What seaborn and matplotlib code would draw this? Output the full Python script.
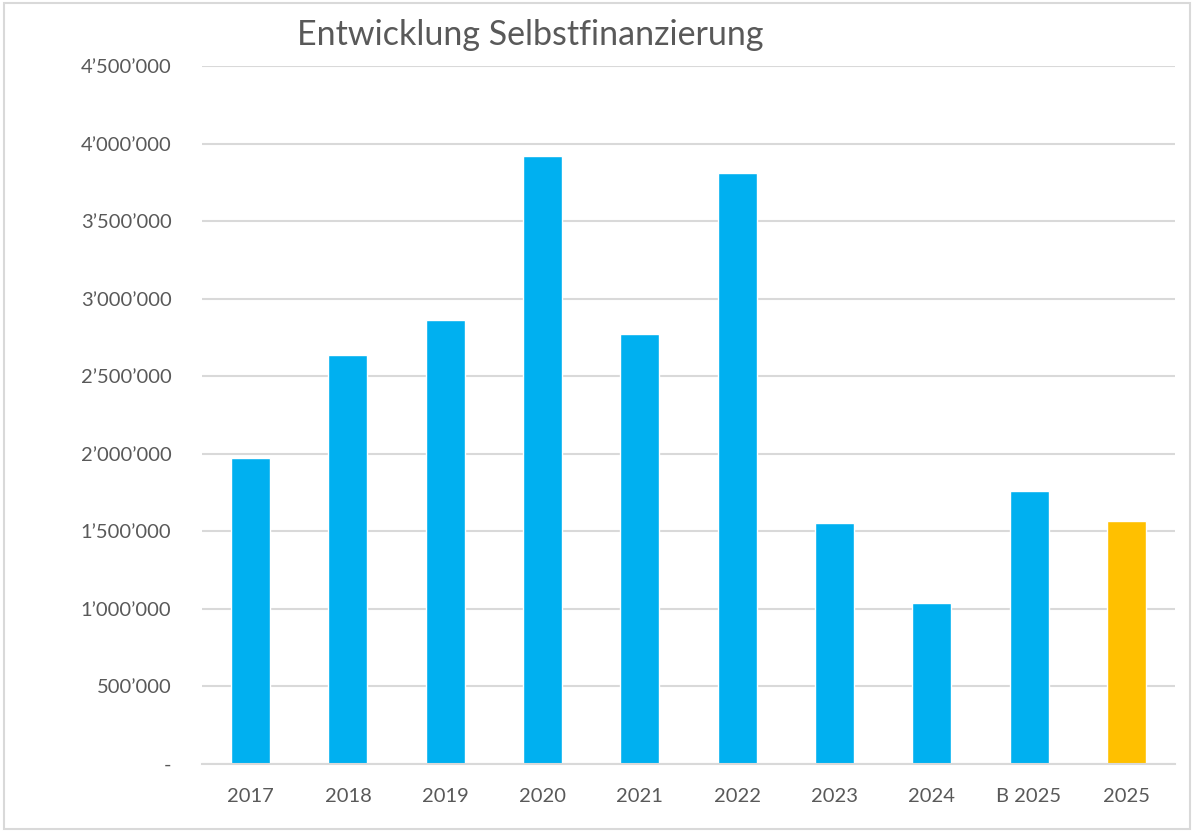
import matplotlib
matplotlib.use("Agg")
import matplotlib.pyplot as plt
import matplotlib.ticker as mticker
from matplotlib.patches import Rectangle
import seaborn as sns
import pandas as pd

categories = ["2017", "2018", "2019", "2020", "2021", "2022", "2023", "2024", "B 2025", "2025"]
values = [1975000, 2640000, 2865000, 3920000, 2770000, 3810000, 1555000, 1040000, 1762000, 1565000]
bar_colors = ["#00B0F0"] * 9 + ["#FFC000"]
title = "Entwicklung Selbstfinanzierung"

sns.set_theme(style="white")
plt.rcParams["font.family"] = ["Lato", "DejaVu Sans"]

df = pd.DataFrame({"cat": categories, "val": values})

fig = plt.figure(figsize=(11.95, 8.32), dpi=100)
ax = fig.add_axes([202 / 1195, 68 / 832, 973 / 1195, 698 / 832])

sns.barplot(data=df, x="cat", y="val", hue="cat", palette=bar_colors,
            order=categories, hue_order=categories, legend=False,
            width=0.4, saturation=1, ax=ax)

ax.set_ylim(0, 4500000)
ax.set_xlim(-0.5, len(categories) - 0.5)
ax.yaxis.set_major_locator(mticker.MultipleLocator(500000))


def fmt(v, pos):
    if abs(v) < 1:
        return "-"
    return f"{int(round(v)):,}".replace(",", "\u2019")


ax.yaxis.set_major_formatter(mticker.FuncFormatter(fmt))
ax.grid(axis="y", color="#D9D9D9", linewidth=1.5)
ax.set_axisbelow(True)
for s in ["top", "right", "left"]:
    ax.spines[s].set_visible(False)
ax.spines["bottom"].set_color("#D9D9D9")
ax.spines["bottom"].set_linewidth(1.5)
ax.set_xlabel("")
ax.set_ylabel("")
ax.tick_params(axis="both", length=0, labelsize=14.5, colors="#595959")
ax.tick_params(axis="y", pad=22)
ax.tick_params(axis="x", pad=17)

fig.text(530 / 1195, 1 - 35 / 832, title, ha="center", va="center",
         fontsize=24.5, color="#595959")

fig.patches.append(Rectangle((0.003, 0.004), 0.993, 0.992, transform=fig.transFigure,
                             fill=False, edgecolor="#D9D9D9", linewidth=1.5))

fig.savefig("out.png", dpi=100)
